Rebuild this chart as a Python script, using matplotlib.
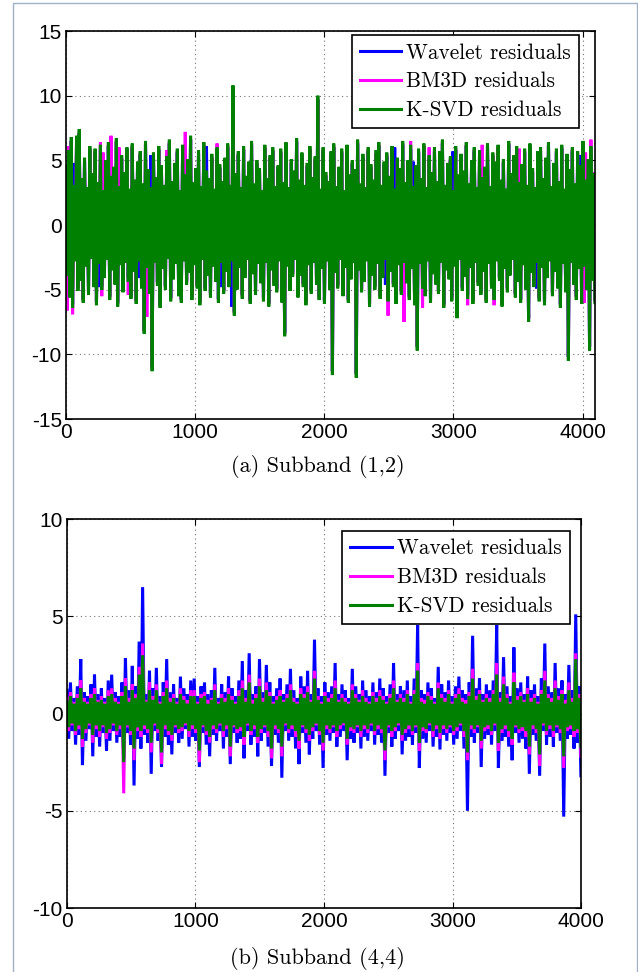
import numpy as np
import matplotlib
matplotlib.use("Agg")
import matplotlib.pyplot as plt
from matplotlib.patches import Rectangle

plt.rcParams['axes.unicode_minus'] = False

# ---- Subband (1,2): peak / trough values of each residual trace ----
wav12_hi = [4.3, 5.5, 6.5, 4.8, 6.6, 7.1, 3.3, 4.9, 2.6, 5.8,
            3.7, 5.6, 3.0, 5.9, 2.4, 4.7, 6.1, 3.5, 4.2, 6.4,
            2.7, 5.1, 3.8, 5.7, 2.5, 6.0, 3.2, 4.6, 5.4, 2.9,
            6.2, 4.0, 5.4, 5.3, 3.4, 5.8, 4.3, 2.8, 5.0, 6.3,
            3.1, 4.5, 5.6, 2.4, 5.9, 3.6, 4.8, 6.6, 3.0, 4.1,
            5.5, 2.7, 6.1, 6.1, 3.3, 5.2, 2.5, 5.7, 4.4, 3.1,
            4.9, 6.0, 2.8, 10.5, 3.7, 5.4, 2.6, 5.8, 3.5, 4.6,
            6.2, 2.9, 4.7, 4.1, 2.4, 5.9, 3.3, 5.1, 5.7, 2.7,
            4.3, 5.6, 3.0, 6.1, 2.6, 4.8, 3.9, 6.4, 3.2, 5.3,
            2.8, 4.5, 5.8, 3.4, 5.0, 9.7, 2.5, 5.7, 3.8, 3.1,
            5.4, 6.0, 2.7, 4.2, 5.6, 2.4, 5.9, 3.6, 4.7, 4.0,
            6.3, 2.9, 5.2, 2.6, 5.7, 4.4, 3.2, 5.5, 6.1, 2.8,
            4.6, 5.3, 3.5, 5.8, 6.0, 4.9, 4.1, 6.2, 3.0, 4.7,
            5.9, 4.9, 4.3, 5.6, 3.3, 6.0, 2.6, 5.1, 3.8, 5.7,
            3.1, 5.4, 6.3, 2.8, 4.5, 5.0, 5.7, 5.8, 3.6, 5.2,
            3.9, 6.1, 2.9, 4.7, 5.7, 2.6, 5.5, 3.4, 4.2, 6.0,
            2.7, 5.3, 4.6, 5.9, 3.2, 4.8, 2.5, 6.2, 3.7, 5.1,
            5.8, 3.0, 4.4, 5.6, 2.8, 6.0, 4.1, 2.6, 5.4, 5.7,
            3.3, 4.9, 6.1, 2.7, 4.5, 5.6, 3.1, 5.9, 2.5, 5.2,
            4.0, 5.7, 2.9, 5.4, 5.4, 6.2, 3.2, 4.8, 5.8, 3.7]
wav12_lo = [-3.6, -5.3, -6.1, -2.5, -4.8, -4.0, -5.7, -2.9, -5.1, -2.3,
            -4.5, -5.9, -4.8, -4.7, -3.8, -2.4, -5.5, -3.2, -4.3, -6.0,
            -2.8, -4.9, -2.6, -4.1, -5.4, -3.3, -5.8, -4.1, -4.6, -8.1,
            -3.0, -5.0, -11.0, -2.6, -4.4, -6.1, -3.1, -4.7, -2.3, -5.6,
            -3.9, -2.7, -5.2, -5.7, -2.5, -4.3, -3.4, -5.5, -2.8, -4.6,
            -5.9, -2.4, -4.8, -3.6, -5.3, -2.9, -4.1, -5.7, -4.8, -5.0,
            -3.3, -4.5, -6.3, -6.7, -4.7, -3.0, -5.4, -3.8, -2.4, -5.8,
            -3.5, -5.1, -2.7, -4.2, -5.6, -2.6, -6.0, -3.2, -4.4, -4.9,
            -2.5, -5.7, -8.3, -2.9, -4.8, -3.7, -2.4, -5.3, -3.6, -4.5,
            -5.9, -2.8, -5.0, -2.6, -4.3, -5.5, -3.1, -5.8, -2.5, -4.7,
            -11.3, -3.4, -4.6, -2.4, -5.2, -3.0, -5.7, -3.9, -2.6, -11.5,
            -3.2, -4.9, -4.1, -2.5, -6.0, -3.6, -4.7, -2.7, -5.4, -3.8,
            -4.6, -5.6, -3.3, -4.5, -5.8, -2.8, -5.1, -2.6, -4.2, -5.5,
            -3.1, -5.9, -9.4, -2.7, -4.6, -5.2, -2.5, -5.7, -3.5, -4.3,
            -5.0, -2.6, -6.1, -3.2, -3.9, -5.6, -2.9, -6.9, -2.4, -4.8,
            -3.7, -5.4, -3.0, -5.8, -2.6, -4.4, -5.1, -3.3, -5.7, -2.7,
            -4.6, -5.5, -2.5, -4.0, -6.0, -3.1, -4.9, -3.6, -2.4, -5.3,
            -4.1, -5.7, -2.8, -4.7, -7.2, -3.4, -4.5, -4.9, -5.6, -3.0,
            -5.9, -3.8, -2.5, -5.2, -3.3, -4.6, -6.1, -2.7, -4.9, -10.2,
            -2.6, -4.3, -5.5, -3.1, -5.8, -2.9, -4.7, -9.4, -4.0, -5.7]

bm3d12_hi = [4.4, 6.1, 6.5, 2.9, 6.7, 7.1, 3.4, 5.0, 2.7, 5.9,
             3.8, 5.7, 3.1, 6.4, 5.6, 4.8, 6.2, 6.9, 4.3, 6.5,
             6.0, 5.2, 3.9, 5.8, 2.6, 6.1, 3.3, 4.7, 5.5, 3.0,
             6.3, 4.1, 2.7, 5.4, 3.5, 5.9, 4.4, 2.9, 5.8, 6.4,
             3.2, 4.6, 5.7, 2.5, 6.0, 7.2, 4.9, 6.7, 3.1, 4.2,
             5.6, 2.8, 6.2, 4.0, 3.4, 5.3, 2.6, 6.3, 4.5, 3.2,
             5.0, 6.1, 2.9, 10.4, 3.8, 5.5, 2.7, 5.9, 3.6, 4.7,
             6.3, 3.0, 4.8, 4.2, 2.5, 6.0, 3.4, 5.2, 5.8, 3.0,
             4.4, 5.7, 3.1, 6.2, 2.7, 4.9, 4.0, 6.5, 3.3, 5.4,
             2.9, 4.6, 5.9, 3.5, 5.1, 9.6, 2.6, 5.8, 3.9, 3.2,
             5.5, 6.1, 2.8, 4.3, 5.7, 2.5, 6.0, 3.7, 4.8, 4.1,
             6.4, 3.0, 5.3, 2.7, 5.8, 4.5, 3.3, 5.6, 6.2, 2.9,
             4.7, 5.4, 3.6, 5.9, 2.6, 5.0, 4.2, 6.3, 3.1, 4.8,
             6.5, 2.8, 4.4, 5.7, 3.4, 6.1, 2.7, 6.0, 3.9, 5.8,
             3.2, 5.5, 6.4, 2.9, 4.6, 5.1, 2.5, 5.9, 3.7, 5.3,
             4.0, 6.2, 3.0, 4.8, 5.8, 2.7, 5.6, 6.2, 4.3, 6.1,
             2.8, 5.4, 4.7, 6.0, 3.3, 4.9, 2.6, 6.3, 3.8, 5.2,
             5.9, 5.9, 4.5, 5.7, 2.9, 6.1, 4.2, 2.7, 5.5, 5.8,
             3.4, 5.0, 6.2, 2.8, 4.6, 5.7, 3.2, 6.0, 2.6, 5.3,
             4.1, 5.8, 3.0, 5.5, 4.4, 6.3, 5.6, 4.9, 6.6, 4.1]
bm3d12_lo = [-6.6, -5.4, -6.9, -2.6, -4.9, -4.1, -5.8, -3.0, -5.2, -2.4,
             -4.6, -6.0, -2.8, -5.5, -3.9, -2.5, -5.6, -3.3, -4.4, -6.1,
             -2.9, -5.0, -2.7, -5.4, -5.5, -3.4, -5.9, -2.6, -4.7, -8.2,
             -7.1, -5.1, -11.0, -2.7, -4.5, -6.2, -3.2, -4.8, -2.4, -5.7,
             -4.0, -2.8, -5.3, -5.8, -2.6, -4.4, -3.5, -5.6, -2.9, -4.7,
             -6.0, -2.5, -4.9, -3.7, -5.4, -3.0, -4.2, -5.8, -2.7, -5.1,
             -3.4, -4.6, -2.6, -6.8, -4.8, -3.1, -5.5, -3.9, -2.5, -5.9,
             -3.6, -5.2, -2.8, -4.3, -5.7, -2.7, -6.1, -3.3, -4.5, -5.0,
             -2.6, -5.8, -8.4, -3.0, -4.9, -3.8, -2.5, -5.4, -3.7, -4.6,
             -6.0, -2.9, -5.1, -2.7, -4.4, -5.6, -3.2, -5.9, -2.6, -4.8,
             -11.3, -3.5, -4.7, -2.5, -5.3, -3.1, -5.8, -4.0, -2.7, -11.5,
             -3.3, -5.0, -4.2, -2.6, -6.1, -3.7, -4.8, -2.8, -5.5, -3.9,
             -2.5, -7.0, -3.4, -4.6, -5.9, -2.9, -5.2, -7.5, -4.3, -5.6,
             -3.2, -6.0, -9.4, -2.8, -6.4, -5.3, -2.6, -5.8, -3.6, -4.4,
             -5.1, -2.7, -6.2, -3.3, -4.0, -5.7, -3.0, -7.0, -2.5, -4.9,
             -3.8, -6.2, -3.1, -5.9, -2.7, -4.5, -5.2, -3.4, -5.8, -2.8,
             -4.7, -6.2, -2.6, -4.1, -6.1, -3.2, -5.0, -3.7, -2.5, -5.4,
             -4.2, -5.8, -2.9, -4.8, -7.3, -3.5, -4.6, -2.7, -5.7, -3.1,
             -6.0, -3.9, -2.6, -5.3, -3.4, -4.7, -6.2, -2.8, -5.0, -10.2,
             -2.7, -4.4, -5.6, -3.3, -5.9, -6.0, -4.8, -9.4, -4.1, -5.8]

ksvd12_hi = [4.6, 5.8, 6.8, 3.1, 6.9, 7.4, 3.6, 5.2, 2.9, 6.1,
             4.0, 5.9, 3.3, 6.2, 2.7, 5.0, 6.4, 3.8, 4.5, 6.7,
             3.0, 5.4, 4.1, 6.0, 2.8, 6.3, 3.5, 4.9, 5.7, 3.2,
             6.5, 4.3, 2.9, 5.6, 3.7, 6.1, 4.6, 3.1, 5.3, 6.6,
             3.4, 4.8, 5.9, 2.7, 6.2, 3.9, 5.1, 6.9, 3.3, 4.4,
             5.8, 3.0, 6.4, 4.2, 3.6, 5.5, 2.8, 6.0, 4.7, 3.4,
             5.2, 6.3, 3.1, 10.8, 4.0, 5.7, 2.9, 6.1, 3.8, 4.9,
             6.5, 3.2, 5.0, 4.4, 2.7, 6.2, 3.6, 5.4, 6.0, 3.0,
             4.6, 5.9, 3.3, 6.4, 2.9, 5.1, 4.2, 6.7, 3.5, 5.6,
             3.1, 4.8, 6.1, 3.7, 5.3, 10.0, 2.8, 6.0, 4.1, 3.4,
             5.7, 6.3, 3.0, 4.5, 5.9, 2.7, 6.2, 3.9, 5.0, 4.3,
             6.6, 3.2, 5.5, 2.9, 6.0, 4.7, 3.5, 5.8, 6.4, 3.1,
             4.9, 5.6, 3.8, 6.1, 2.8, 5.2, 4.4, 6.5, 3.3, 5.0,
             6.2, 3.0, 4.6, 5.9, 3.6, 6.3, 2.9, 5.4, 4.1, 6.0,
             3.4, 5.7, 6.6, 3.1, 4.8, 5.3, 2.7, 6.1, 3.9, 5.5,
             4.2, 6.4, 3.2, 5.0, 6.0, 2.9, 5.8, 3.7, 4.5, 6.3,
             3.0, 5.6, 4.9, 6.2, 3.5, 5.1, 2.8, 6.5, 4.0, 5.4,
             6.1, 3.3, 4.7, 5.9, 3.1, 6.3, 4.4, 2.9, 5.7, 6.0,
             3.6, 5.2, 6.4, 3.0, 4.8, 5.9, 3.4, 6.2, 2.8, 5.5,
             4.3, 6.0, 3.2, 5.7, 4.6, 6.5, 3.5, 5.1, 6.1, 4.0]
ksvd12_lo = [-3.9, -5.6, -6.4, -2.8, -5.1, -4.3, -6.0, -3.2, -5.4, -2.6,
             -4.8, -6.2, -3.0, -5.0, -4.1, -2.7, -5.8, -3.5, -4.6, -6.3,
             -3.1, -5.2, -2.9, -4.4, -5.7, -3.6, -6.1, -2.8, -4.9, -8.4,
             -3.3, -5.3, -11.3, -2.9, -4.7, -6.4, -3.4, -5.0, -2.6, -5.9,
             -4.2, -3.0, -5.5, -6.0, -2.8, -4.6, -3.7, -5.8, -3.1, -4.9,
             -6.2, -2.7, -5.1, -3.9, -5.6, -3.2, -4.4, -6.0, -2.9, -5.3,
             -3.6, -4.8, -2.8, -7.0, -5.0, -3.3, -5.7, -4.1, -2.7, -6.1,
             -3.8, -5.4, -3.0, -4.5, -5.9, -2.9, -6.3, -3.5, -4.7, -5.2,
             -2.8, -6.0, -8.6, -3.2, -5.1, -4.0, -2.7, -5.6, -3.9, -4.8,
             -6.2, -3.1, -5.3, -2.9, -4.6, -5.8, -3.4, -6.1, -2.8, -5.0,
             -11.6, -3.7, -4.9, -2.7, -5.5, -3.3, -6.0, -4.2, -2.9, -11.8,
             -3.5, -5.2, -4.4, -2.8, -6.3, -3.9, -5.0, -3.0, -5.7, -4.1,
             -2.7, -5.9, -3.6, -4.8, -6.1, -3.1, -5.4, -2.9, -4.5, -5.8,
             -3.4, -6.2, -9.7, -3.0, -4.9, -5.5, -2.8, -6.0, -3.8, -4.6,
             -5.3, -2.9, -6.4, -3.5, -4.2, -5.9, -3.2, -7.2, -2.7, -5.1,
             -4.0, -5.7, -3.3, -6.1, -2.9, -4.7, -5.4, -3.6, -6.0, -3.0,
             -4.9, -5.8, -2.8, -4.3, -6.3, -3.4, -5.2, -3.9, -2.7, -5.6,
             -4.4, -6.0, -3.1, -5.0, -7.5, -3.7, -4.8, -2.9, -5.9, -3.3,
             -6.2, -4.1, -2.8, -5.5, -3.6, -4.9, -6.4, -3.0, -5.2, -10.5,
             -2.9, -4.6, -5.8, -3.4, -6.1, -3.2, -5.0, -9.7, -4.3, -6.0]

# ---- Subband (4,4) ----
wav44_hi = [1.2, 1.6, 0.8, 1.4, 2.8, 1.1, 0.9, 1.5, 2.0, 1.0,
            1.3, 0.8, 1.7, 2.0, 1.1, 0.9, 1.6, 2.85, 1.2, 2.45,
            1.4, 3.7, 6.5, 1.0, 2.2, 1.3, 2.35, 0.9, 1.6, 2.8,
            1.1, 1.5, 0.8, 1.9, 1.3, 1.0, 1.7, 1.8, 0.9, 1.4,
            1.6, 1.0, 1.2, 2.35, 0.8, 1.5, 1.1, 1.9, 1.3, 0.9,
            1.7, 2.7, 1.2, 3.1, 1.0, 1.4, 2.8, 1.1, 2.5, 1.6,
            0.9, 1.3, 1.8, 1.0, 1.5, 2.3, 1.2, 0.8, 1.9, 1.4,
            2.2, 1.0, 3.8, 1.3, 0.9, 1.6, 1.1, 1.4, 2.6, 1.0,
            1.5, 1.2, 0.8, 2.3, 1.4, 1.0, 1.7, 1.2, 0.9, 1.6,
            1.1, 1.8, 1.3, 0.9, 1.5, 2.6, 1.0, 1.4, 1.2, 1.7,
            0.9, 1.8, 4.55, 1.2, 1.0, 1.6, 1.3, 0.8, 2.4, 1.5,
            1.1, 1.7, 0.9, 1.4, 1.9, 1.2, 1.0, 1.6, 4.0, 1.3,
            1.8, 1.0, 1.5, 1.2, 1.7, 4.55, 1.1, 2.9, 1.4, 0.9,
            3.4, 1.3, 1.6, 1.0, 1.9, 1.2, 1.5, 0.9, 1.8, 3.6,
            1.4, 1.1, 2.6, 1.3, 1.7, 1.0, 2.5, 1.2, 5.1, 1.4]
wav44_lo = [-1.3, -0.9, -1.6, -1.1, -2.65, -1.4, -0.8, -2.2, -1.2, -1.7,
            -1.0, -1.9, -1.4, -0.9, -1.5, -1.2, -2.3, -1.0, -1.6, -3.7,
            -1.3, -1.8, -1.1, -1.5, -3.1, -0.9, -1.4, -2.75, -1.2, -1.6,
            -2.1, -1.0, -1.5, -1.3, -0.8, -1.7, -1.2, -1.4, -2.75, -1.0,
            -1.6, -2.2, -1.1, -1.4, -0.9, -1.8, -1.2, -2.6, -1.0, -1.5,
            -1.3, -2.3, -0.9, -1.6, -1.2, -2.2, -1.4, -1.0, -1.7, -2.7,
            -1.1, -1.5, -3.3, -0.9, -1.4, -1.2, -1.8, -2.6, -1.0, -1.5,
            -2.1, -1.3, -0.9, -1.6, -2.8, -1.1, -1.4, -1.0, -1.7, -1.2,
            -0.9, -2.4, -1.3, -1.5, -1.0, -1.8, -1.2, -1.4, -0.9, -1.6,
            -1.1, -1.5, -3.2, -1.0, -1.7, -1.3, -0.9, -2.1, -1.4, -1.2,
            -1.6, -1.0, -2.8, -1.3, -1.5, -0.9, -1.7, -1.2, -1.85, -1.1,
            -1.4, -1.0, -1.6, -1.3, -0.9, -1.8, -5.0, -1.2, -1.5, -1.0,
            -2.75, -1.3, -1.1, -1.6, -0.9, -2.8, -1.4, -1.2, -1.7, -2.4,
            -1.0, -1.5, -1.3, -1.8, -3.1, -1.1, -1.4, -3.2, -0.9, -1.6,
            -1.2, -1.7, -1.0, -1.4, -5.3, -1.3, -1.1, -1.8, -1.5, -3.2]

bm3d44_hi = [0.8, 1.1, 0.6, 1.0, 1.7, 0.8, 0.6, 1.0, 1.3, 0.7,
             0.9, 0.6, 1.2, 1.3, 0.8, 0.6, 1.1, 1.8, 0.8, 1.5,
             1.0, 2.4, 3.6, 0.7, 1.6, 0.9, 1.5, 0.6, 1.1, 1.7,
             0.8, 1.0, 0.6, 1.3, 0.9, 0.7, 1.2, 1.2, 0.6, 1.0,
             1.1, 0.7, 0.8, 1.5, 0.6, 1.0, 0.8, 1.3, 0.9, 0.6,
             1.2, 1.7, 0.8, 2.0, 0.7, 1.0, 1.8, 0.8, 1.6, 1.1,
             0.6, 0.9, 1.2, 0.7, 1.0, 1.5, 0.8, 0.6, 1.3, 1.0,
             1.4, 0.7, 2.2, 0.9, 0.6, 1.1, 0.8, 1.0, 1.7, 0.7,
             1.0, 0.8, 0.6, 1.5, 1.0, 0.7, 1.2, 0.8, 0.6, 1.1,
             0.8, 1.2, 0.9, 0.6, 1.0, 1.7, 0.7, 1.0, 0.8, 1.2,
             0.6, 1.2, 2.6, 0.8, 0.7, 1.1, 0.9, 0.6, 1.6, 1.0,
             0.8, 1.2, 0.6, 1.0, 1.3, 0.8, 0.7, 1.1, 2.3, 0.9,
             1.2, 0.7, 1.0, 0.8, 1.2, 2.6, 0.8, 1.9, 1.0, 0.6,
             2.1, 0.9, 1.1, 0.7, 1.3, 0.8, 1.0, 0.6, 1.2, 2.2,
             1.0, 0.8, 1.7, 0.9, 1.2, 0.7, 1.6, 0.8, 3.1, 1.0]
bm3d44_lo = [-0.9, -0.6, -1.1, -0.8, -1.7, -1.0, -0.6, -1.5, -0.8, -1.2,
             -0.7, -1.3, -1.0, -0.6, -1.1, -0.8, -4.1, -0.7, -1.1, -2.4,
             -0.9, -1.2, -0.8, -1.0, -2.0, -0.6, -1.0, -2.6, -0.8, -1.1,
             -1.4, -0.7, -1.0, -0.9, -0.6, -1.2, -0.8, -1.0, -2.5, -0.7,
             -1.1, -1.5, -0.8, -1.0, -0.6, -1.2, -0.8, -2.2, -0.7, -1.0,
             -0.9, -1.6, -0.6, -1.1, -0.8, -1.5, -1.0, -0.7, -1.2, -2.3,
             -0.8, -1.0, -2.2, -0.6, -1.0, -0.8, -1.2, -1.8, -0.7, -1.0,
             -1.4, -0.9, -0.6, -1.1, -1.9, -0.8, -1.0, -0.7, -1.2, -0.8,
             -0.6, -1.6, -0.9, -1.0, -0.7, -1.2, -0.8, -1.0, -0.6, -1.1,
             -0.8, -1.0, -2.4, -0.7, -1.2, -0.9, -0.6, -1.4, -1.0, -0.8,
             -1.1, -0.7, -1.9, -0.9, -1.0, -0.6, -1.2, -0.8, -1.3, -0.8,
             -1.0, -0.7, -1.1, -0.9, -0.6, -1.2, -2.4, -0.8, -1.0, -0.7,
             -1.8, -0.9, -0.8, -1.1, -0.6, -1.9, -1.0, -0.8, -1.2, -1.6,
             -0.7, -1.0, -0.9, -1.2, -2.1, -0.8, -1.0, -2.7, -0.6, -1.1,
             -0.8, -1.2, -0.7, -1.0, -2.8, -0.9, -0.8, -1.2, -1.0, -2.2]

ksvd44_hi = [0.6, 0.9, 0.5, 0.8, 1.3, 0.6, 0.5, 0.8, 1.0, 0.6,
             0.7, 0.5, 0.9, 1.0, 0.6, 0.5, 0.9, 1.4, 0.6, 1.2,
             0.8, 2.0, 3.0, 0.6, 1.2, 0.7, 1.2, 0.5, 0.9, 1.3,
             0.6, 0.8, 0.5, 1.0, 0.7, 0.5, 0.9, 0.9, 0.5, 0.8,
             0.9, 0.5, 0.7, 1.2, 0.5, 0.8, 0.6, 1.0, 0.7, 0.5,
             0.9, 1.3, 0.6, 1.6, 0.5, 0.8, 1.4, 0.6, 1.2, 0.9,
             0.5, 0.7, 0.9, 0.6, 0.8, 1.2, 0.6, 0.5, 1.0, 0.8,
             1.1, 0.6, 1.8, 0.7, 0.5, 0.9, 0.6, 0.8, 1.3, 0.6,
             0.8, 0.6, 0.5, 1.2, 0.8, 0.6, 0.9, 0.6, 0.5, 0.9,
             0.6, 0.9, 0.7, 0.5, 0.8, 1.3, 0.6, 0.8, 0.6, 1.0,
             0.5, 1.0, 2.2, 0.6, 0.5, 0.9, 0.7, 0.5, 1.3, 0.8,
             0.6, 1.0, 0.5, 0.8, 1.0, 0.6, 0.5, 0.9, 1.8, 0.7,
             1.0, 0.6, 0.8, 0.6, 1.0, 2.0, 0.6, 1.5, 0.8, 0.5,
             1.6, 0.7, 0.9, 0.6, 1.0, 0.6, 0.8, 0.5, 1.0, 1.7,
             0.8, 0.6, 1.3, 0.7, 1.0, 0.5, 1.2, 0.6, 2.8, 0.8]
ksvd44_lo = [-0.7, -0.5, -0.9, -0.6, -1.3, -0.8, -0.5, -1.1, -0.6, -0.9,
             -0.6, -1.0, -0.8, -0.5, -0.9, -0.6, -2.5, -0.6, -0.9, -1.8,
             -0.7, -0.9, -0.6, -0.8, -1.5, -0.5, -0.8, -2.0, -0.6, -0.9,
             -1.1, -0.6, -0.8, -0.7, -0.5, -0.9, -0.6, -0.8, -1.9, -0.6,
             -0.9, -1.2, -0.6, -0.8, -0.5, -0.9, -0.6, -1.7, -0.6, -0.8,
             -0.7, -1.2, -0.5, -0.9, -0.6, -1.2, -0.8, -0.6, -0.9, -1.8,
             -0.6, -0.8, -1.7, -0.5, -0.8, -0.6, -0.9, -1.4, -0.6, -0.8,
             -1.1, -0.7, -0.5, -0.9, -1.5, -0.6, -0.8, -0.6, -0.9, -0.6,
             -0.5, -1.3, -0.7, -0.8, -0.6, -0.9, -0.6, -0.8, -0.5, -0.9,
             -0.6, -0.8, -1.9, -0.6, -0.9, -0.7, -0.5, -1.1, -0.8, -0.6,
             -0.9, -0.6, -1.5, -0.7, -0.8, -0.5, -0.9, -0.6, -1.0, -0.6,
             -0.8, -0.6, -0.9, -0.7, -0.5, -0.9, -2.0, -0.6, -0.8, -0.6,
             -1.4, -0.7, -0.6, -0.9, -0.5, -1.5, -0.8, -0.6, -0.9, -1.3,
             -0.6, -0.8, -0.7, -0.9, -1.7, -0.6, -0.8, -2.1, -0.5, -0.9,
             -0.6, -0.9, -0.6, -0.8, -2.2, -0.7, -0.6, -0.9, -0.8, -1.7]

labels = ['Wavelet residuals', 'BM3D residuals', 'K-SVD residuals']
colors = ['#0000ff', '#ff00ff', '#008000']


def trace(hi, lo):
    # alternate peak, trough, peak, trough ...
    return np.column_stack((hi, lo)).ravel()


def residual_panel(ax, series, n, ylim, yticks, legend_anchor):
    for (hi, lo), lab, col in zip(series, labels, colors):
        y = trace(hi, lo)
        x = np.linspace(0, n - 1, len(y))
        ax.plot(x, y, color=col, lw=2.2, label=lab, solid_joinstyle='bevel')
    ax.set_xlim(0, n)
    ax.set_ylim(*ylim)
    ax.set_xticks([0, 1000, 2000, 3000, 4000])
    ax.set_yticks(yticks)
    ax.grid(True, color='0.45', linestyle=(0, (1, 3)), lw=0.8)
    ax.tick_params(direction='in', length=4.5, width=0.8, top=True, right=True,
                   labelsize=15, pad=3)
    for s in ax.spines.values():
        s.set_linewidth(1.2)
    for lbl in ax.get_xticklabels() + ax.get_yticklabels():
        lbl.set_fontfamily('Liberation Sans')
    leg = ax.legend(loc='upper right', bbox_to_anchor=legend_anchor, borderaxespad=0,
                    prop={'family': 'cmr10', 'size': 15.3}, fancybox=False,
                    framealpha=1, edgecolor='black', handlelength=1.95,
                    handletextpad=0.25, labelspacing=0.44, borderpad=0.38)
    leg.get_frame().set_linewidth(1.2)
    for h in leg.get_lines():
        h.set_linewidth(2.2)


fig = plt.figure(figsize=(6.38, 9.72), dpi=100)
fig.patches.append(Rectangle((13 / 638, -0.01), 624 / 638, 1.007, transform=fig.transFigure,
                             fill=False, edgecolor='#9fb0c6', lw=1))

ax1 = fig.add_axes([0.1034, 0.5689, 0.8292, 0.3992])
residual_panel(ax1, [(wav12_hi, wav12_lo), (bm3d12_hi, bm3d12_lo), (ksvd12_hi, ksvd12_lo)],
               4096, (-15, 15), [-15, -10, -5, 0, 5, 10, 15], (0.9703, 0.9897))

ax2 = fig.add_axes([0.105, 0.0658, 0.8057, 0.4002])
residual_panel(ax2, [(wav44_hi, wav44_lo), (bm3d44_hi, bm3d44_lo), (ksvd44_hi, ksvd44_lo)],
               4000, (-10, 10), [-10, -5, 0, 5, 10], (0.9786, 0.970))

fig.text(0.4977, 1 - 466 / 972, '(a) Subband (1,2)', ha='center', va='center',
         family='cmr10', size=16)
fig.text(0.4977, 1 - 958 / 972, '(b) Subband (4,4)', ha='center', va='center',
         family='cmr10', size=16)

fig.savefig('out.png', dpi=100)
